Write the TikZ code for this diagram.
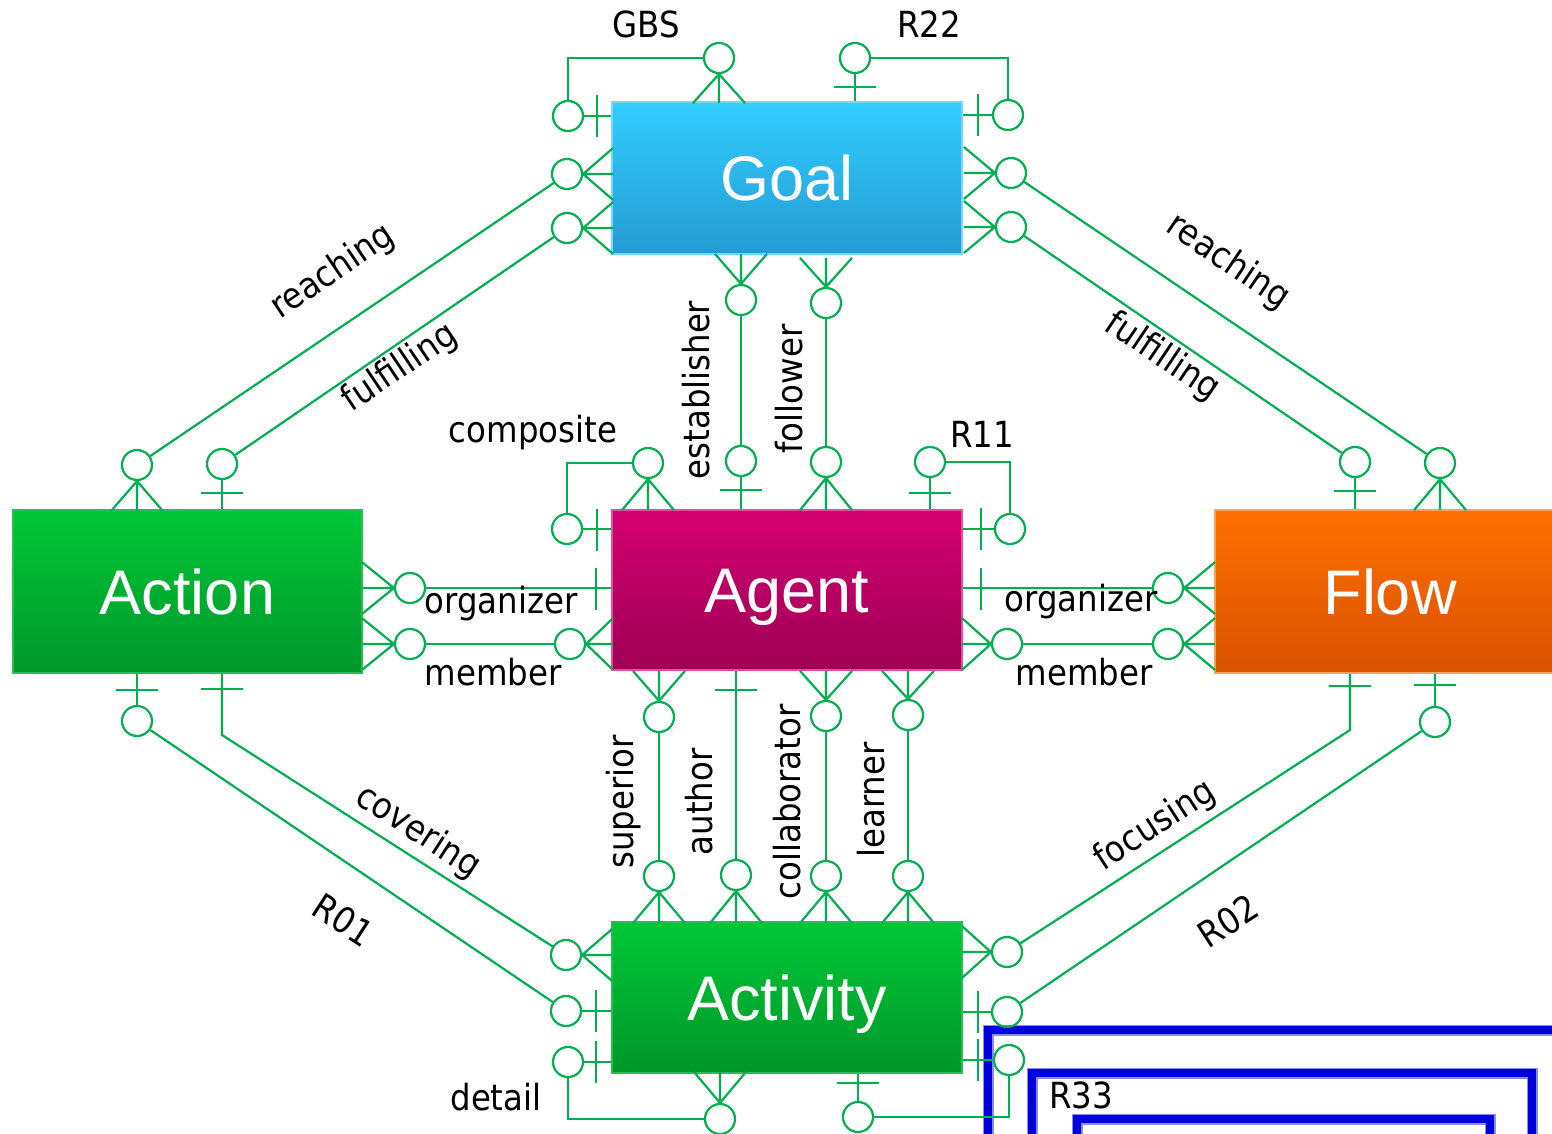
\documentclass[tikz,border=0pt]{standalone}
\usepackage{fontspec}
\setmainfont{Liberation Sans}
\newfontfamily\lblfont[FakeStretch=0.9]{DejaVu Sans}
\usetikzlibrary{calc}
\definecolor{lg}{RGB}{0,176,80}
\definecolor{goalT}{RGB}{50,205,255}
\definecolor{goalB}{RGB}{36,155,210}
\definecolor{goalD}{RGB}{120,215,250}
\definecolor{grnT}{RGB}{0,200,55}
\definecolor{grnB}{RGB}{0,150,42}
\definecolor{grnD}{RGB}{40,190,80}
\definecolor{agT}{RGB}{212,0,112}
\definecolor{agB}{RGB}{158,0,85}
\definecolor{agD}{RGB}{225,80,160}
\definecolor{flT}{RGB}{255,112,0}
\definecolor{flB}{RGB}{216,82,0}
\definecolor{flD}{RGB}{255,160,90}
\definecolor{bl}{RGB}{0,0,220}
\definecolor{blL}{RGB}{140,140,240}
\newcommand\crowS[2]{\draw[rel] (#1.south) -- ++(-26,#2) (#1.south) -- ++(0,#2) (#1.south) -- ++(26,#2);}
\newcommand\crowN[2]{\draw[rel] (#1.north) -- ++(-26,-#2) (#1.north) -- ++(0,-#2) (#1.north) -- ++(26,-#2);}
\newcommand\crowE[2]{\draw[rel] (#1.east) -- ++(#2,-26) (#1.east) -- ++(#2,0) (#1.east) -- ++(#2,26);}
\newcommand\crowW[2]{\draw[rel] (#1.west) -- ++(-#2,-26) (#1.west) -- ++(-#2,0) (#1.west) -- ++(-#2,26);}
\begin{document}
\begin{tikzpicture}[x=1pt,y=-1pt,
  rel/.style={draw=lg,line width=2.2pt},
  cir/.style={circle,draw=lg,line width=2.2pt,minimum size=30pt,inner sep=0pt},
  ent/.style={rectangle,minimum width=350pt,text=white,font=\fontsize{63}{70}\selectfont,inner sep=0pt,line width=1.5pt,text height=45pt,text depth=0pt},
  lbl/.style={font=\lblfont\fontsize{36}{40}\selectfont,inner sep=0pt,text=black},
  bluebox/.style={draw=blL,line width=11pt},
  blueboxin/.style={draw=bl,line width=8.5pt}]
\useasboundingbox (0,0) rectangle (1552,1134);
\clip (0,0) rectangle (1552,1134);
\fill[white] (0,0) rectangle (1552,1134);

% blue frames
\draw[bluebox] (988,1030) rectangle (1600,1200);
\draw[blueboxin] (988,1030) rectangle (1600,1200);
\draw[bluebox] (1032,1073) rectangle (1532,1200);
\draw[blueboxin] (1032,1073) rectangle (1532,1200);
\draw[bluebox] (1077,1119) rectangle (1490,1200);
\draw[blueboxin] (1077,1119) rectangle (1490,1200);

% entities
\node[ent,minimum height=152pt,top color=goalT,bottom color=goalB,draw=goalD] (goal) at (787,178) {Goal};
\node[ent,minimum width=349pt,minimum height=163pt,top color=grnT,bottom color=grnB,draw=grnD] (action) at (187.5,591.5) {Action};
\node[ent,minimum height=160pt,top color=agT,bottom color=agB,draw=agD] (agent) at (787,590) {Agent};
\node[ent,minimum height=163pt,top color=flT,bottom color=flB,draw=flD] (flow) at (1390,591.5) {Flow};
\node[ent,minimum height=151pt,top color=grnT,bottom color=grnB,draw=grnD] (activity) at (787,997.5) {Activity};

% circles
\node[cir] (cGBSa) at (568,116) {};
\node[cir] (cGBSb) at (719,58) {};
\node[cir] (cR22a) at (855,58) {};
\node[cir] (cR22b) at (1008,115) {};
\node[cir] (cGAr) at (567,174) {};
\node[cir] (cGAf) at (567,228) {};
\node[cir] (cGFr) at (1011,173) {};
\node[cir] (cGFf) at (1011,227) {};
\node[cir] (cGest) at (741,300) {};
\node[cir] (cGfol) at (826,303) {};
\node[cir] (cAr) at (137,465) {};
\node[cir] (cAf) at (222,464) {};
\node[cir] (cAR01) at (137,721) {};
\node[cir] (cAorg) at (410,588) {};
\node[cir] (cAmem) at (410,644) {};
\node[cir] (cEst) at (741,461) {};
\node[cir] (cFol) at (826,462) {};
\node[cir] (cCompa) at (567,529) {};
\node[cir] (cCompb) at (648,463) {};
\node[cir] (cR11a) at (930,462) {};
\node[cir] (cR11b) at (1010,529) {};
\node[cir] (cAgMem) at (570,644) {};
\node[cir] (cAgMemR) at (1007,644) {};
\node[cir] (cSup) at (659,717) {};
\node[cir] (cCol) at (826,716) {};
\node[cir] (cLea) at (908,715) {};
\node[cir] (cFr) at (1440,463) {};
\node[cir] (cFf) at (1355,462) {};
\node[cir] (cForg) at (1168,588) {};
\node[cir] (cFmem) at (1168,644) {};
\node[cir] (cFR02) at (1435,722) {};
\node[cir] (cSupB) at (659,876) {};
\node[cir] (cAutB) at (736,875) {};
\node[cir] (cColB) at (826,876) {};
\node[cir] (cLeaB) at (908,876) {};
\node[cir] (cCov) at (566,955) {};
\node[cir] (cR01) at (566,1011) {};
\node[cir] (cDetA) at (568,1062) {};
\node[cir] (cDetB) at (720,1119) {};
\node[cir] (cR33a) at (858,1117) {};
\node[cir] (cR33b) at (1009,1060) {};
\node[cir] (cFoc) at (1007,952) {};
\node[cir] (cR02) at (1007,1012) {};
\coordinate (covK) at (222,735);
\coordinate (focK) at (1350,730);

% ---- GBS
\draw[rel] (cGBSa.east) -- (cGBSa.east -| goal.west);
\draw[rel] (597,95) -- (597,137);
\draw[rel] (cGBSa.north) |- (cGBSb.west);
\crowS{cGBSb}{29}
% ---- R22
\draw[rel] (cR22a.south) -- (cR22a.south |- goal.north);
\draw[rel] (834,87) -- (876,87);
\draw[rel] (cR22a.east) -| (cR22b.north);
\draw[rel] (cR22b.west) -- (cR22b.west -| goal.east);
\draw[rel] (978,94) -- (978,136);
% ---- reaching / fulfilling (Goal - Action)
\crowE{cGAr}{30}
\crowE{cGAf}{30}
\draw[rel] (cGAr) -- (cAr);
\draw[rel] (cGAf) -- (cAf);
\crowS{cAr}{30}
\draw[rel] (cAf.south) -- (cAf.south |- action.north);
\draw[rel] (201,493) -- (243,493);
% ---- reaching / fulfilling (Goal - Flow)
\crowW{cGFr}{31}
\crowW{cGFf}{31}
\draw[rel] (cGFr) -- (cFr);
\draw[rel] (cGFf) -- (cFf);
\crowS{cFr}{31}
\draw[rel] (cFf.south) -- (cFf.south |- flow.north);
\draw[rel] (1334,491) -- (1376,491);
% ---- establisher / follower
\crowN{cGest}{30}
\crowN{cGfol}{29}
\draw[rel] (cGest) -- (cEst);
\draw[rel] (cGfol) -- (cFol);
\draw[rel] (cEst.south) -- (cEst.south |- agent.north);
\draw[rel] (720,490) -- (762,490);
\crowS{cFol}{32}
% ---- composite
\draw[rel] (cCompa.east) -- (cCompa.east -| agent.west);
\draw[rel] (597,509) -- (597,551);
\draw[rel] (cCompa.north) |- (cCompb.west);
\crowS{cCompb}{31}
% ---- R11
\draw[rel] (cR11a.south) -- (cR11a.south |- agent.north);
\draw[rel] (909,493) -- (951,493);
\draw[rel] (cR11a.east) -| (cR11b.north);
\draw[rel] (cR11b.west) -- (cR11b.west -| agent.east);
\draw[rel] (981,508) -- (981,550);
% ---- organizer / member (Action - Agent)
\crowW{cAorg}{32}
\crowW{cAmem}{32}
\draw[rel] (cAorg.east) -- (cAorg.east -| agent.west);
\draw[rel] (596,568) -- (596,610);
\draw[rel] (cAmem) -- (cAgMem);
\crowE{cAgMem}{27}
% ---- organizer / member (Agent - Flow)
\draw[rel] (cForg.west -| agent.east) -- (cForg.west);
\draw[rel] (981,568) -- (981,610);
\crowE{cForg}{31}
\crowW{cAgMemR}{29}
\draw[rel] (cAgMemR) -- (cFmem);
\crowE{cFmem}{31}
% ---- superior / author / collaborator / learner
\crowN{cSup}{30}
\draw[rel] (cSup) -- (cSupB);
\crowS{cSupB}{31}
\draw[rel] (cAutB.north |- agent.south) -- (cAutB.north);
\draw[rel] (715,690) -- (757,690);
\crowS{cAutB}{32}
\crowN{cCol}{29}
\draw[rel] (cCol) -- (cColB);
\crowS{cColB}{31}
\crowN{cLea}{28}
\draw[rel] (cLea) -- (cLeaB);
\crowS{cLeaB}{31}
% ---- R01 / covering
\draw[rel] (cAR01.north) -- (cAR01.north |- action.south);
\draw[rel] (116,690) -- (158,690);
\draw[rel] (cAR01) -- (cR01);
\draw[rel] (cR01.east) -- (cR01.east -| activity.west);
\draw[rel] (596,990) -- (596,1032);
\draw[rel] (covK |- action.south) -- (covK) -- (cCov);
\draw[rel] (201,689) -- (243,689);
\crowE{cCov}{30}
% ---- focusing / R02
\draw[rel] (focK |- flow.south) -- (focK) -- (cFoc);
\draw[rel] (1329,686) -- (1371,686);
\crowW{cFoc}{29}
\draw[rel] (cFR02.north) -- (cFR02.north |- flow.south);
\draw[rel] (1414,685) -- (1456,685);
\draw[rel] (cFR02) -- (cR02);
\draw[rel] (cR02.west) -- (cR02.west -| activity.east);
\draw[rel] (978,991) -- (978,1033);
% ---- detail
\draw[rel] (cDetA.east) -- (cDetA.east -| activity.west);
\draw[rel] (596,1041) -- (596,1083);
\draw[rel] (cDetA.south) |- (cDetB.west);
\crowN{cDetB}{31}
% ---- R33
\draw[rel] (cR33a.north) -- (cR33a.north |- activity.south);
\draw[rel] (837,1083) -- (879,1083);
\draw[rel] (cR33a.east) -| (cR33b.south);
\draw[rel] (cR33b.west) -- (cR33b.west -| activity.east);
\draw[rel] (978,1039) -- (978,1081);

% labels
\node[lbl] (lGBS) at (646,24) {GBS};
\node[lbl] (lR22) at (929,24) {R22};
\node[lbl,rotate=34] (lreachL) at (333,272) {reaching};
\node[lbl,rotate=34] (lfulL) at (400,368) {fulfilling};
\node[lbl,rotate=-34] (lreachR) at (1228,262) {reaching};
\node[lbl,rotate=-34] (lfulR) at (1162,357) {fulfilling};
\node[lbl,rotate=90] (lest) at (696,390) {establisher};
\node[lbl,rotate=90] (lfol) at (789,389) {follower};
\node[lbl] (lcomp) at (533,433) {composite};
\node[lbl] (lR11) at (982,434) {R11};
\node[lbl] (lorgL) at (501,604) {organizer};
\node[lbl] (lmemL) at (493,672) {member};
\node[lbl] (lorgR) at (1081,602) {organizer};
\node[lbl] (lmemR) at (1084,672) {member};
\node[lbl,rotate=90] (lsup) at (624,802) {superior};
\node[lbl,rotate=90] (laut) at (699,802) {author};
\node[lbl,rotate=90] (lcol) at (787,802) {collaborator};
\node[lbl,rotate=90] (llea) at (871,800) {learner};
\node[lbl,rotate=-33] (lcov) at (418,832) {covering};
\node[lbl,rotate=-33] (lR01) at (343,920) {R01};
\node[lbl,rotate=33] (lfoc) at (1155,826) {focusing};
\node[lbl,rotate=33] (lR02) at (1228,921) {R02};
\node[lbl] (ldet) at (496,1097) {detail};
\node[lbl] (lR33) at (1081,1095) {R33};
\end{tikzpicture}
\end{document}
